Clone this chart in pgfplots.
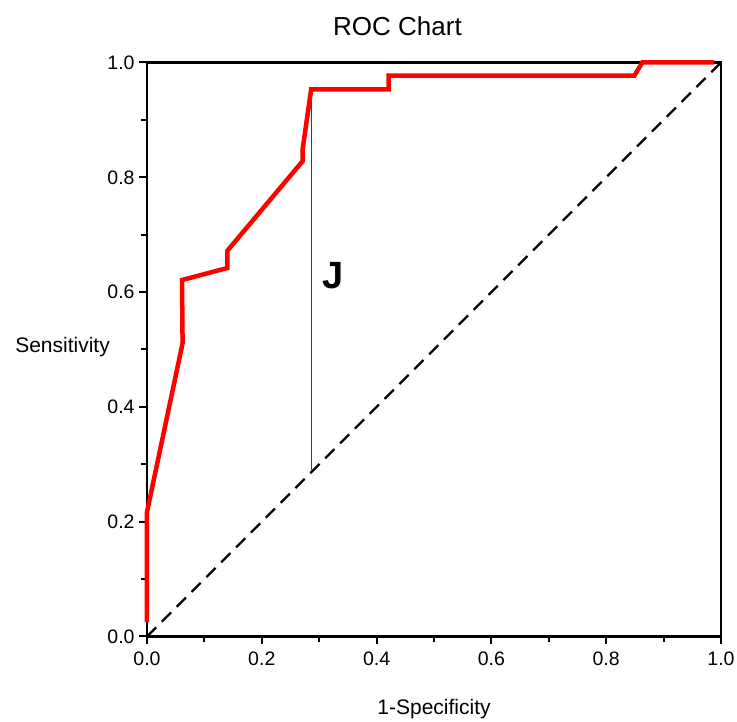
\documentclass[border=0pt]{standalone}
\usepackage{pgfplots}
\pgfplotsset{compat=1.18}
\usepackage{fontspec}
\setmainfont{Liberation Sans}
\begin{document}
\begin{tikzpicture}
\path[use as bounding box] (-147pt,-85.5pt) rectangle (590pt,636.5pt);
\begin{axis}[
  at={(0,0)}, anchor=south west,
  width=574pt, height=574pt, scale only axis,
  line width=2.2pt,
  axis line style={line width=2.2pt},
  xmin=0, xmax=1, ymin=0, ymax=1,
  xtick={0,0.2,...,1.0}, ytick={0,0.2,...,1.0},
  minor tick num=1,
  tick align=outside,
  xtick pos=left, ytick pos=left,
  major tick length=8pt, minor tick length=6pt,
  every tick/.style={line width=2pt, black},
  minor tick style={line width=2pt, black},
  tick label style={font=\fontsize{19.5}{22}\selectfont},
  xticklabel style={yshift=-3pt},
  /pgf/number format/assume math mode=true,
  xticklabel style={/pgf/number format/.cd, fixed, fixed zerofill, precision=1},
  yticklabel style={/pgf/number format/.cd, fixed, fixed zerofill, precision=1},
  clip=false,
]
\addplot[black, line width=2.2pt, dash pattern=on 13pt off 8pt] coordinates {(0,0) (1,1)};
\addplot[black!75, line width=1.3pt] coordinates {(0.287,0.289) (0.287,0.953)};
\addplot[red, line width=4.5pt, line join=miter] coordinates {
  (0,0.025) (0,0.217) (0.062,0.511) (0.061,0.621) (0.140,0.642) (0.140,0.672)
  (0.271,0.828) (0.271,0.848) (0.286,0.953) (0.421,0.953) (0.421,0.977)
  (0.849,0.977) (0.863,1.0) (0.988,1.0)};
\node[anchor=base west, inner sep=0, font=\fontsize{38}{40}\selectfont\bfseries] at (axis cs:0.303,0.607) {J};
\end{axis}
\node[anchor=base, inner sep=0, font=\fontsize{26}{30}\selectfont] at (250.5pt,600.5pt) {ROC Chart};
\node[anchor=base east, inner sep=0, font=\fontsize{21}{24}\selectfont] at (-37pt,283.5pt) {Sensitivity};
\node[anchor=base, inner sep=0, font=\fontsize{21}{24}\selectfont] at (287pt,-78.5pt) {1-Specificity};
\end{tikzpicture}
\end{document}
